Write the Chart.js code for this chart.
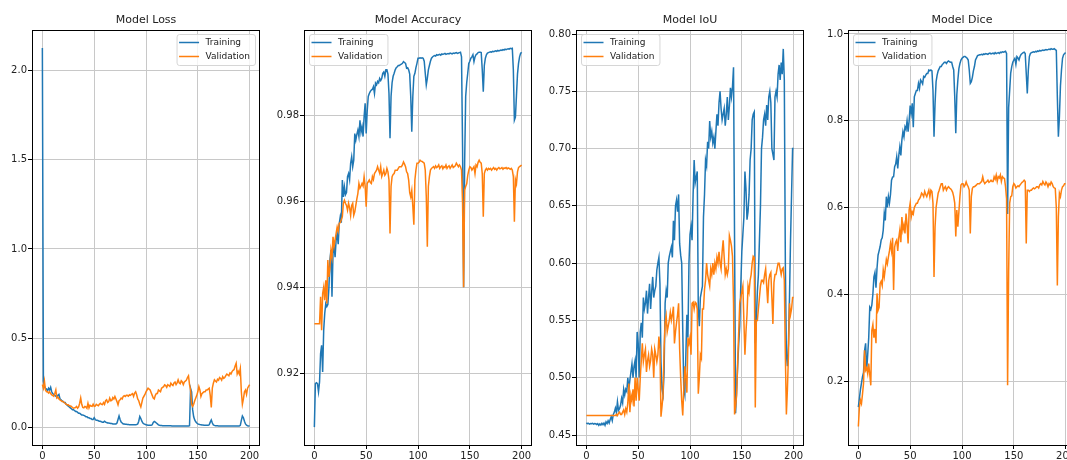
<!DOCTYPE html>
<html>
<head>
<meta charset="utf-8">
<title>Training curves</title>
<script src="https://cdn.jsdelivr.net/npm/chart.js@4.4.0/dist/chart.umd.min.js"></script>
<style>
  html, body { margin: 0; padding: 0; background: #fff; overflow: hidden; }
  body { width: 1067px; height: 460px; position: relative; }
  canvas { position: absolute; top: 0; }
</style>
</head>
<body>
<canvas id="lossChart" width="272" height="460" style="left:0px"></canvas>
<canvas id="accChart" width="272" height="460" style="left:272px"></canvas>
<canvas id="iouChart" width="272" height="460" style="left:544px"></canvas>
<canvas id="diceChart" width="272" height="460" style="left:816px"></canvas>
<script>
// values, one per epoch (0..200)
const lossTrain = [
  2.125, 0.26, 0.23, 0.22, 0.215, 0.205, 0.22, 0.21, 0.225, 0.2,
  0.19, 0.185, 0.18, 0.175, 0.17, 0.18, 0.185, 0.16, 0.155, 0.15,
  0.145, 0.14, 0.14, 0.13, 0.125, 0.12, 0.115, 0.11, 0.105, 0.1,
  0.1, 0.095, 0.09, 0.09, 0.085, 0.08, 0.08, 0.075, 0.07, 0.07,
  0.068, 0.065, 0.06, 0.06, 0.055, 0.055, 0.05, 0.05, 0.045, 0.045,
  0.055, 0.045, 0.04, 0.04, 0.038, 0.035, 0.035, 0.032, 0.03, 0.03,
  0.035, 0.03, 0.028, 0.025, 0.025, 0.024, 0.022, 0.022, 0.02, 0.02,
  0.02, 0.02, 0.025, 0.045, 0.065, 0.045, 0.03, 0.025, 0.02, 0.02,
  0.018, 0.018, 0.017, 0.017, 0.016, 0.016, 0.016, 0.015, 0.015, 0.015,
  0.015, 0.016, 0.02, 0.035, 0.062, 0.05, 0.035, 0.025, 0.02, 0.018,
  0.015, 0.014, 0.013, 0.013, 0.012, 0.012, 0.015, 0.028, 0.034, 0.03,
  0.025, 0.02, 0.015, 0.012, 0.011, 0.011, 0.01, 0.01, 0.01, 0.01,
  0.01, 0.01, 0.01, 0.01, 0.01, 0.009, 0.009, 0.009, 0.009, 0.009,
  0.009, 0.009, 0.009, 0.009, 0.009, 0.009, 0.009, 0.009, 0.009, 0.009,
  0.009, 0.009, 0.01, 0.22, 0.2, 0.1, 0.06, 0.042, 0.032, 0.025,
  0.02, 0.018, 0.016, 0.015, 0.014, 0.014, 0.013, 0.013, 0.013, 0.012,
  0.012, 0.015, 0.03, 0.042, 0.025, 0.015, 0.012, 0.01, 0.01, 0.01,
  0.009, 0.009, 0.009, 0.009, 0.009, 0.008, 0.008, 0.008, 0.008, 0.008,
  0.008, 0.008, 0.008, 0.008, 0.008, 0.008, 0.008, 0.008, 0.008, 0.008,
  0.008, 0.012, 0.04, 0.065, 0.055, 0.035, 0.02, 0.013, 0.01, 0.009,
  0.008
];
const lossVal = [
  0.24, 0.22, 0.26, 0.21, 0.2, 0.2, 0.193, 0.2, 0.19, 0.183,
  0.18, 0.175, 0.19, 0.21, 0.165, 0.17, 0.16, 0.155, 0.15, 0.146,
  0.146, 0.14, 0.136, 0.13, 0.127, 0.127, 0.122, 0.12, 0.118, 0.112,
  0.108, 0.11, 0.112, 0.118, 0.108, 0.115, 0.136, 0.165, 0.13, 0.112,
  0.11, 0.118, 0.115, 0.108, 0.136, 0.11, 0.125, 0.12, 0.118, 0.13,
  0.118, 0.12, 0.13, 0.125, 0.122, 0.13, 0.136, 0.13, 0.128, 0.14,
  0.13, 0.15, 0.155, 0.14, 0.145, 0.165, 0.15, 0.152, 0.168, 0.16,
  0.174, 0.16, 0.145, 0.127, 0.15, 0.155, 0.165, 0.16, 0.174, 0.178,
  0.174, 0.18, 0.18, 0.175, 0.183, 0.18, 0.186, 0.19, 0.174, 0.193,
  0.2, 0.183, 0.16, 0.15, 0.13, 0.115, 0.14, 0.165, 0.175, 0.185,
  0.2, 0.21, 0.22, 0.215, 0.21, 0.195, 0.18, 0.165, 0.16, 0.18,
  0.19, 0.19, 0.21, 0.205, 0.2, 0.22, 0.225, 0.229, 0.239, 0.235,
  0.225, 0.24, 0.235, 0.23, 0.248, 0.24, 0.235, 0.25, 0.255, 0.24,
  0.25, 0.267, 0.25, 0.245, 0.262, 0.255, 0.24, 0.255, 0.26, 0.265,
  0.28, 0.29, 0.24, 0.21, 0.13, 0.118, 0.13, 0.15, 0.165, 0.18,
  0.2, 0.229, 0.21, 0.174, 0.19, 0.195, 0.2, 0.2, 0.21, 0.21,
  0.215, 0.22, 0.18, 0.112, 0.22, 0.248, 0.267, 0.26, 0.255, 0.27,
  0.265, 0.28, 0.275, 0.265, 0.285, 0.275, 0.28, 0.29, 0.299, 0.295,
  0.29, 0.305, 0.3, 0.313, 0.32, 0.325, 0.345, 0.36, 0.3, 0.315,
  0.3, 0.33, 0.2, 0.13, 0.16, 0.2, 0.21, 0.185, 0.22, 0.23,
  0.24
];
const accTrain = [
  0.9075, 0.9176, 0.9178, 0.9176, 0.9157, 0.918, 0.9246, 0.9265, 0.9203, 0.93,
  0.9339, 0.9362, 0.9355, 0.936, 0.9397, 0.9463, 0.9486, 0.9378, 0.948, 0.9494,
  0.947, 0.951, 0.9525, 0.95, 0.9548, 0.9564, 0.955, 0.9649, 0.961, 0.9633,
  0.9615, 0.962, 0.9657, 0.9664, 0.965, 0.9688, 0.9703, 0.968, 0.9695, 0.9757,
  0.9742, 0.9755, 0.9765, 0.975, 0.9788, 0.976, 0.9773, 0.975, 0.9796, 0.9827,
  0.9757, 0.981, 0.9843, 0.985, 0.9855, 0.9858, 0.986, 0.9866, 0.985, 0.9874,
  0.987, 0.9878, 0.9875, 0.9885, 0.988, 0.9885, 0.9897, 0.99, 0.989, 0.9905,
  0.9905, 0.9895, 0.985, 0.9746, 0.9843, 0.9875, 0.989, 0.9897, 0.9905, 0.991,
  0.9912, 0.9915, 0.9915, 0.9917, 0.9918, 0.992, 0.9924, 0.9922, 0.992, 0.9909,
  0.991, 0.9905, 0.9895, 0.9843, 0.9761, 0.9843, 0.989, 0.9897, 0.991, 0.992,
  0.9932, 0.9932, 0.9933, 0.9932, 0.9933, 0.9932, 0.9925, 0.9897, 0.987, 0.9885,
  0.9905, 0.9915, 0.9925, 0.9932, 0.9935, 0.9937, 0.9938, 0.9937, 0.994, 0.9939,
  0.994, 0.9941, 0.9939, 0.9942, 0.9941, 0.9942, 0.9943, 0.9941, 0.9942, 0.9943,
  0.9942, 0.9944, 0.9943, 0.9942, 0.9944, 0.9943, 0.9944, 0.9945, 0.9943, 0.9944,
  0.9945, 0.9946, 0.9935, 0.9726, 0.94, 0.9688, 0.9843, 0.9875, 0.9897, 0.992,
  0.9925, 0.9932, 0.9935, 0.994, 0.9924, 0.9935, 0.994, 0.9942, 0.9945, 0.9946,
  0.9946, 0.9945, 0.9905, 0.9854, 0.9915, 0.9932, 0.994, 0.9944, 0.9945, 0.9946,
  0.9947, 0.9946, 0.9948, 0.9947, 0.9948, 0.9949, 0.9948, 0.995, 0.9949, 0.995,
  0.9951, 0.995, 0.9952, 0.9951, 0.9953, 0.9952, 0.9953, 0.9954, 0.9953, 0.9955,
  0.9954, 0.9955, 0.9905, 0.9788, 0.9795, 0.9845, 0.9895, 0.992, 0.9935, 0.9943,
  0.9946
];
const accVal = [
  0.9315, 0.9315, 0.9315, 0.9315, 0.9315, 0.9315, 0.9378, 0.93, 0.9385, 0.94,
  0.937, 0.9416, 0.9362, 0.9463, 0.9424, 0.9445, 0.9486, 0.947, 0.9517, 0.9495,
  0.951, 0.9525, 0.954, 0.953, 0.9548, 0.955, 0.9557, 0.9564, 0.9595, 0.9602,
  0.9595, 0.959, 0.9579, 0.9595, 0.9585, 0.9567, 0.959, 0.9595, 0.9567, 0.9575,
  0.959, 0.9605, 0.9618, 0.9641, 0.963, 0.9635, 0.9641, 0.9635, 0.9657, 0.9635,
  0.9587, 0.9641, 0.9645, 0.9649, 0.9643, 0.9641, 0.9657, 0.965, 0.9664, 0.9668,
  0.9672, 0.968, 0.9672, 0.9665, 0.968, 0.9657, 0.9664, 0.9672, 0.966, 0.9664,
  0.9676, 0.9668, 0.9649, 0.9525, 0.9634, 0.9657, 0.9662, 0.9664, 0.9672, 0.9672,
  0.9672, 0.9676, 0.968, 0.968, 0.968, 0.9684, 0.9691, 0.9686, 0.968, 0.9668,
  0.9664, 0.9649, 0.962, 0.961, 0.9625, 0.9588, 0.9545, 0.9649, 0.9672, 0.9688,
  0.9688, 0.969, 0.9695, 0.9693, 0.9692, 0.969, 0.9688, 0.9672, 0.961, 0.9494,
  0.9634, 0.9657, 0.9672, 0.9676, 0.9678, 0.968, 0.9676, 0.9682, 0.9678, 0.968,
  0.9684, 0.9676, 0.968, 0.9682, 0.9675, 0.968, 0.9678, 0.9684, 0.9676, 0.968,
  0.9682, 0.9676, 0.968, 0.9684, 0.9678, 0.968, 0.9682, 0.9688, 0.9684, 0.968,
  0.9684, 0.968, 0.9672, 0.9595, 0.94, 0.9626, 0.9634, 0.964, 0.966, 0.9672,
  0.968, 0.9678, 0.9672, 0.9676, 0.968, 0.9664, 0.9684, 0.968, 0.969, 0.9695,
  0.969, 0.9688, 0.9664, 0.9564, 0.9664, 0.9672, 0.9676, 0.9672, 0.9676, 0.9674,
  0.9676, 0.9672, 0.9675, 0.9678, 0.9674, 0.9676, 0.9672, 0.9676, 0.9678, 0.9675,
  0.9676, 0.9678, 0.9674, 0.9677, 0.9676, 0.9678, 0.9675, 0.9677, 0.9676, 0.9674,
  0.9676, 0.9672, 0.9657, 0.9552, 0.965, 0.964, 0.9668, 0.9678, 0.968, 0.9682,
  0.9684
];
const iouTrain = [
  0.4605, 0.46, 0.4603, 0.4595, 0.46, 0.4598, 0.4602, 0.4595, 0.46, 0.4598,
  0.4592, 0.46, 0.4585, 0.4597, 0.4588, 0.4602, 0.459, 0.4605, 0.4585, 0.4615,
  0.46, 0.4625, 0.4605, 0.4635, 0.466, 0.4625, 0.468, 0.47, 0.4735, 0.4695,
  0.479, 0.4715, 0.473, 0.476, 0.482, 0.478, 0.49, 0.485, 0.49, 0.488,
  0.5, 0.49, 0.498, 0.505, 0.512, 0.5, 0.51, 0.515, 0.5, 0.54,
  0.53, 0.5, 0.54, 0.548, 0.535, 0.57, 0.56, 0.565, 0.576, 0.556,
  0.57, 0.582, 0.56, 0.575, 0.588, 0.57, 0.576, 0.58, 0.594, 0.6,
  0.605, 0.582, 0.514, 0.49, 0.485, 0.505, 0.565, 0.576, 0.57, 0.6,
  0.606, 0.61, 0.614, 0.605, 0.637, 0.62, 0.65, 0.655, 0.645, 0.66,
  0.617, 0.607, 0.6, 0.542, 0.49, 0.485, 0.52, 0.555, 0.535, 0.6,
  0.625, 0.632, 0.62, 0.66, 0.69, 0.67, 0.675, 0.68, 0.56, 0.545,
  0.57, 0.575, 0.58, 0.64, 0.66, 0.69, 0.685, 0.706, 0.7, 0.724,
  0.71, 0.715, 0.705, 0.71, 0.7, 0.715, 0.73, 0.72, 0.74, 0.75,
  0.735, 0.725, 0.73, 0.735, 0.72, 0.73, 0.745, 0.725, 0.737, 0.753,
  0.745, 0.754, 0.771, 0.62, 0.469, 0.49, 0.51, 0.53, 0.545, 0.58,
  0.61, 0.625, 0.64, 0.68, 0.665, 0.638, 0.645, 0.66, 0.69, 0.7,
  0.725, 0.73, 0.732, 0.53, 0.55, 0.575, 0.59, 0.62, 0.65, 0.7,
  0.71, 0.725, 0.73, 0.72, 0.738, 0.725, 0.745, 0.75, 0.74, 0.7,
  0.695, 0.69, 0.745, 0.75, 0.745, 0.765, 0.773, 0.76, 0.775, 0.765,
  0.787, 0.76, 0.6, 0.52, 0.51, 0.53, 0.57, 0.62, 0.66, 0.7,
  0.7
];
const iouVal = [
  0.467, 0.467, 0.467, 0.467, 0.467, 0.467, 0.467, 0.467, 0.467, 0.467,
  0.467, 0.467, 0.467, 0.467, 0.467, 0.467, 0.467, 0.467, 0.467, 0.467,
  0.467, 0.467, 0.467, 0.467, 0.467, 0.467, 0.467, 0.467, 0.467, 0.468,
  0.467, 0.469, 0.47, 0.468, 0.468, 0.47, 0.472, 0.468, 0.473, 0.47,
  0.478, 0.495, 0.47, 0.485, 0.48, 0.49, 0.475, 0.5, 0.48, 0.5,
  0.49, 0.48, 0.5, 0.515, 0.53, 0.514, 0.52, 0.525, 0.505, 0.515,
  0.52, 0.51, 0.515, 0.525, 0.52, 0.5, 0.525, 0.52, 0.514, 0.52,
  0.536, 0.525, 0.466, 0.475, 0.485, 0.525, 0.548, 0.554, 0.54, 0.545,
  0.55, 0.557, 0.55, 0.555, 0.562, 0.53, 0.54, 0.548, 0.555, 0.565,
  0.525, 0.5, 0.48, 0.467, 0.49, 0.51, 0.5, 0.487, 0.535, 0.53,
  0.535, 0.52, 0.565, 0.566, 0.56, 0.566, 0.565, 0.56, 0.486, 0.5,
  0.52, 0.517, 0.56, 0.56, 0.577, 0.585, 0.6, 0.59, 0.585, 0.58,
  0.595, 0.59, 0.6, 0.59, 0.6, 0.595, 0.605, 0.6, 0.61, 0.6,
  0.595, 0.61, 0.62, 0.605, 0.59, 0.595, 0.59, 0.595, 0.624, 0.62,
  0.615, 0.606, 0.565, 0.468, 0.475, 0.485, 0.514, 0.54, 0.565, 0.57,
  0.575, 0.58, 0.55, 0.52, 0.54, 0.555, 0.58, 0.575, 0.585, 0.59,
  0.6, 0.606, 0.605, 0.474, 0.55, 0.55, 0.56, 0.57, 0.58, 0.585,
  0.585, 0.583, 0.59, 0.595, 0.58, 0.565, 0.585, 0.59, 0.592, 0.57,
  0.547, 0.583, 0.59, 0.59, 0.595, 0.6, 0.6, 0.595, 0.59, 0.595,
  0.596, 0.585, 0.52, 0.468, 0.49, 0.52, 0.565, 0.555, 0.56, 0.57,
  0.57
];
const diceTrain = [
  0.14, 0.16, 0.18, 0.195, 0.21, 0.22, 0.27, 0.287, 0.225, 0.26,
  0.3, 0.37, 0.365, 0.375, 0.4, 0.44, 0.45, 0.415, 0.46, 0.49,
  0.5, 0.51, 0.525, 0.53, 0.548, 0.587, 0.57, 0.625, 0.6, 0.625,
  0.61, 0.63, 0.663, 0.67, 0.671, 0.694, 0.7, 0.717, 0.69, 0.72,
  0.74, 0.72, 0.756, 0.775, 0.763, 0.786, 0.78, 0.8, 0.775, 0.8,
  0.835, 0.817, 0.84, 0.785, 0.855, 0.863, 0.87, 0.87, 0.886, 0.875,
  0.894, 0.89, 0.885, 0.902, 0.9, 0.905, 0.909, 0.909, 0.917, 0.915,
  0.917, 0.915, 0.87, 0.763, 0.84, 0.89, 0.905, 0.915, 0.92, 0.925,
  0.925, 0.93, 0.932, 0.935, 0.935, 0.932, 0.936, 0.938, 0.936, 0.935,
  0.935, 0.925, 0.917, 0.855, 0.771, 0.86, 0.894, 0.92, 0.932, 0.94,
  0.944, 0.946, 0.948, 0.948, 0.946, 0.944, 0.94, 0.917, 0.886, 0.89,
  0.9, 0.915, 0.925, 0.94, 0.945, 0.95, 0.951, 0.952, 0.952, 0.953,
  0.952, 0.954, 0.953, 0.955, 0.954, 0.953, 0.955, 0.956, 0.954, 0.955,
  0.956, 0.954, 0.957, 0.955, 0.956, 0.957, 0.955, 0.958, 0.957, 0.959,
  0.958, 0.959, 0.96, 0.955, 0.585, 0.83, 0.87, 0.91, 0.925, 0.935,
  0.94, 0.944, 0.93, 0.948, 0.945, 0.94, 0.948, 0.953, 0.955, 0.957,
  0.958, 0.955, 0.909, 0.863, 0.917, 0.948, 0.955, 0.957, 0.958, 0.959,
  0.958, 0.96, 0.959, 0.961, 0.96, 0.962, 0.961, 0.962, 0.963, 0.962,
  0.963, 0.964, 0.963, 0.964, 0.965, 0.964, 0.966, 0.965, 0.965, 0.966,
  0.964, 0.962, 0.855, 0.763, 0.81, 0.88, 0.917, 0.944, 0.952, 0.955,
  0.957
];
const diceVal = [
  0.095, 0.14, 0.156, 0.148, 0.17, 0.195, 0.271, 0.225, 0.23, 0.217,
  0.24, 0.215, 0.19, 0.317, 0.33, 0.3, 0.32, 0.287, 0.402, 0.363,
  0.37, 0.425, 0.43, 0.42, 0.456, 0.44, 0.46, 0.48, 0.47, 0.486,
  0.5, 0.517, 0.5, 0.53, 0.41, 0.509, 0.52, 0.525, 0.5, 0.53,
  0.548, 0.52, 0.578, 0.548, 0.56, 0.54, 0.586, 0.56, 0.517, 0.594,
  0.61, 0.578, 0.59, 0.585, 0.6, 0.605, 0.61, 0.61, 0.617, 0.62,
  0.625, 0.633, 0.63, 0.625, 0.637, 0.63, 0.625, 0.633, 0.64, 0.625,
  0.64, 0.637, 0.61, 0.44, 0.555, 0.6, 0.617, 0.633, 0.64, 0.648,
  0.655, 0.655, 0.64, 0.645, 0.648, 0.64, 0.645, 0.648, 0.645, 0.643,
  0.64, 0.635, 0.625, 0.61, 0.533, 0.594, 0.556, 0.59, 0.625, 0.652,
  0.655, 0.655, 0.648, 0.652, 0.659, 0.652, 0.648, 0.64, 0.54, 0.625,
  0.644, 0.648, 0.648, 0.65, 0.652, 0.655, 0.655, 0.655, 0.658, 0.66,
  0.671, 0.66, 0.655, 0.658, 0.66, 0.663, 0.658, 0.66, 0.663, 0.66,
  0.66, 0.671, 0.665, 0.675, 0.66, 0.671, 0.668, 0.675, 0.66, 0.671,
  0.668, 0.667, 0.648, 0.62, 0.19, 0.45, 0.61, 0.625, 0.627, 0.648,
  0.655, 0.652, 0.645, 0.648, 0.65, 0.648, 0.652, 0.655, 0.658, 0.66,
  0.663, 0.66, 0.517, 0.64, 0.64, 0.637, 0.64, 0.64, 0.643, 0.645,
  0.643, 0.645, 0.648, 0.648, 0.645, 0.652, 0.655, 0.652, 0.66, 0.655,
  0.652, 0.659, 0.655, 0.648, 0.655, 0.652, 0.659, 0.655, 0.648, 0.645,
  0.644, 0.6, 0.42, 0.578, 0.633, 0.625, 0.64, 0.648, 0.65, 0.655,
  0.655
];

const xTicks = [0, 50, 100, 150, 200];
const lossTicks = [0, 0.5, 1.0, 1.5, 2.0];
const accTicks = [0.92, 0.94, 0.96, 0.98];
const iouTicks = [0.45, 0.5, 0.55, 0.6, 0.65, 0.7, 0.75, 0.8];
const diceTicks = [0.2, 0.4, 0.6, 0.8, 1.0];
const seriesNames = ['Training', 'Validation'];

const epochs = lossTrain.map((v, i) => i);
const blue = '#1f77b4';
const orange = '#ff7f0e';
const gridColor = '#c8c8c8';
const textColor = '#222';

Chart.defaults.font.family = '"DejaVu Sans", sans-serif';

// frame, title and legend drawn inside the axes like matplotlib does
const axesFrame = {
    id: 'axesFrame',
    afterDraw(chart, args, opts) {
        const ctx = chart.ctx;
        const a = chart.chartArea;
        ctx.save();
        ctx.strokeStyle = '#000';
        ctx.lineWidth = 1;
        ctx.strokeRect(Math.round(a.left) + 0.5, Math.round(a.top) + 0.5,
            Math.round(a.right - a.left) - 1, Math.round(a.bottom - a.top));

        ctx.fillStyle = textColor;
        ctx.font = '11px "DejaVu Sans"';
        ctx.textAlign = 'center';
        ctx.textBaseline = 'middle';
        ctx.fillText(opts.title, (a.left + a.right) / 2, 20);

        ctx.font = '9px "DejaVu Sans"';
        const tw = Math.max(...seriesNames.map(n => ctx.measureText(n).width));
        const w = 29 + tw + 5;
        const h = 31;
        const x0 = opts.legendAtRight ? a.right - 5 - w : a.left + 5;
        const y0 = a.top + 4;
        ctx.beginPath();
        ctx.roundRect(x0 + 0.5, y0 + 0.5, w, h, 2.5);
        ctx.fillStyle = 'rgba(255,255,255,0.8)';
        ctx.fill();
        ctx.strokeStyle = '#d6d6d6';
        ctx.stroke();

        const colors = [blue, orange];
        ctx.textAlign = 'left';
        seriesNames.forEach((name, i) => {
            const y = y0 + 8.5 + i * 14;
            ctx.beginPath();
            ctx.strokeStyle = colors[i];
            ctx.lineWidth = 1.5;
            ctx.moveTo(x0 + 2.5, y);
            ctx.lineTo(x0 + 22.5, y);
            ctx.stroke();
            ctx.fillStyle = textColor;
            ctx.fillText(name, x0 + 29, y + 0.5);
        });
        ctx.restore();
    }
};

function buildChart(id, title, train, val, yMin, yMax, yTicks, digits, legendAtRight) {
    const canvas = document.getElementById(id);
    return new Chart(canvas, {
        type: 'line',
        data: {
            datasets: [
                {
                    label: seriesNames[0],
                    data: train.map((v, i) => ({ x: epochs[i], y: v })),
                    borderColor: blue,
                    borderWidth: 1.5,
                    pointRadius: 0,
                    tension: 0,
                    order: 1
                },
                {
                    label: seriesNames[1],
                    data: val.map((v, i) => ({ x: epochs[i], y: v })),
                    borderColor: orange,
                    borderWidth: 1.5,
                    pointRadius: 0,
                    tension: 0,
                    order: 0
                }
            ]
        },
        options: {
            responsive: false,
            animation: false,
            events: [],
            layout: { padding: { top: 30, right: 12, left: 0, bottom: 0 } },
            plugins: {
                legend: { display: false },
                tooltip: { enabled: false },
                axesFrame: { title: title, legendAtRight: legendAtRight }
            },
            scales: {
                x: {
                    type: 'linear',
                    min: -10,
                    max: 210,
                    afterBuildTicks: s => { s.ticks = xTicks.map(v => ({ value: v })); },
                    afterFit: s => {
                        s.height = 15;
                        s.paddingLeft = 0; s.paddingRight = 0;
                        s.paddingTop = 0; s.paddingBottom = 0;
                    },
                    grid: { color: gridColor, lineWidth: 1, tickLength: 4, tickColor: '#000', tickWidth: 1 },
                    border: { display: false },
                    ticks: {
                        autoSkip: false, maxRotation: 0, padding: 1,
                        color: textColor, font: { size: 10 },
                        callback: v => String(v)
                    }
                },
                y: {
                    type: 'linear',
                    min: yMin,
                    max: yMax,
                    afterBuildTicks: s => { s.ticks = yTicks.map(v => ({ value: v })); },
                    afterFit: s => {
                        s.width = 32;
                        s.paddingLeft = 0; s.paddingRight = 0;
                        s.paddingTop = 0; s.paddingBottom = 0;
                    },
                    grid: { color: gridColor, lineWidth: 1, tickLength: 4, tickColor: '#000', tickWidth: 1 },
                    border: { display: false },
                    ticks: {
                        autoSkip: false, padding: 1,
                        color: textColor, font: { size: 10 },
                        callback: v => Number(v).toFixed(digits)
                    }
                }
            }
        },
        plugins: [axesFrame]
    });
}

buildChart('lossChart', 'Model Loss', lossTrain, lossVal, -0.098, 2.226, lossTicks, 1, true);
buildChart('accChart', 'Model Accuracy', accTrain, accVal, 0.90335, 0.99975, accTicks, 2, false);
buildChart('iouChart', 'Model IoU', iouTrain, iouVal, 0.4413, 0.8035, iouTicks, 2, false);
buildChart('diceChart', 'Model Dice', diceTrain, diceVal, 0.0525, 1.0092, diceTicks, 1, false);
</script>
</body>
</html>
